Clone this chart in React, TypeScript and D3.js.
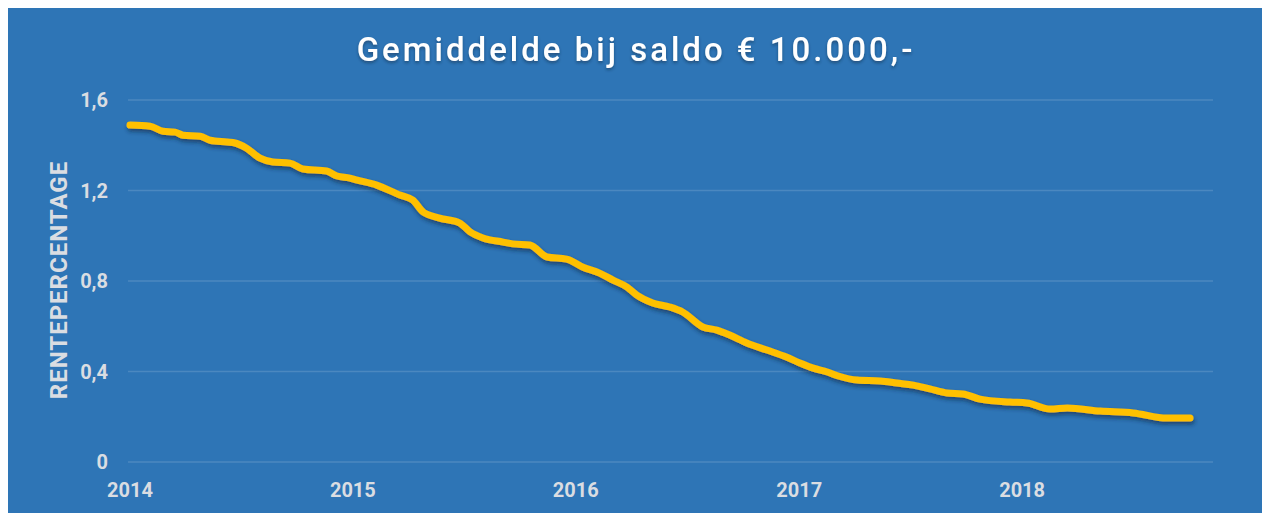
import React from 'react';
import * as d3 from 'd3';

// rente bij saldo 10.000 (leesbaar uit grafiek)
const dates = [
    "2014-01-01", "2014-02-03", "2014-02-24", "2014-03-16", "2014-03-29", "2014-04-26",
    "2014-05-12", "2014-06-09", "2014-06-22", "2014-07-11", "2014-08-02", "2014-08-23",
    "2014-09-20", "2014-10-11", "2014-11-19", "2014-12-06", "2014-12-27", "2015-01-08",
    "2015-02-09", "2015-03-19", "2015-04-09", "2015-04-26", "2015-05-23", "2015-06-25",
    "2015-07-12", "2015-08-02", "2015-09-04", "2015-09-20", "2015-10-18", "2015-11-15",
    "2015-12-17", "2016-01-12", "2016-02-09", "2016-03-02", "2016-03-25", "2016-04-10",
    "2016-05-06", "2016-06-03", "2016-06-24", "2016-07-27", "2016-08-19", "2016-09-09",
    "2016-10-07", "2016-11-09", "2016-12-11", "2017-01-02", "2017-01-24", "2017-02-16",
    "2017-03-06", "2017-04-06", "2017-05-14", "2017-06-10", "2017-07-07", "2017-08-03",
    "2017-08-31", "2017-09-26", "2017-10-24", "2017-12-12", "2018-01-09", "2018-02-16",
    "2018-03-16", "2018-05-09", "2018-07-02", "2018-08-26", "2018-10-03"
];
const rates = [
    1.489, 1.484, 1.462, 1.458, 1.444, 1.440,
    1.422, 1.414, 1.410, 1.387, 1.343, 1.326,
    1.321, 1.295, 1.286, 1.264, 1.255, 1.246,
    1.224, 1.180, 1.158, 1.105, 1.078, 1.056,
    1.017, 0.990, 0.972, 0.964, 0.959, 0.906,
    0.897, 0.862, 0.835, 0.804, 0.773, 0.738,
    0.703, 0.685, 0.663, 0.597, 0.583, 0.561,
    0.526, 0.495, 0.464, 0.438, 0.415, 0.398,
    0.380, 0.362, 0.358, 0.349, 0.340, 0.323,
    0.305, 0.301, 0.278, 0.265, 0.261, 0.234,
    0.239, 0.225, 0.217, 0.194, 0.194
];
const yTicks = [0, 0.4, 0.8, 1.2, 1.6];
const yearTicks = ["2014", "2015", "2016", "2017", "2018"];

const title = "Gemiddelde bij saldo € 10.000,-";
const y_label = "RENTEPERCENTAGE";

const width = 1262;
const height = 505;
const bg = "#2e75b6";
const labelColor = "#dadde2";

type point = { date: Date; rate: number };

const App: React.FC = () => {
    const parse = d3.timeParse("%Y-%m-%d");
    const data: point[] = dates.map((d, i) => ({ date: parse(d)!, rate: rates[i] }));

    const xScale = d3.scaleTime()
        .domain([parse("2014-01-01")!, parse("2019-01-01")!])
        .range([122, 1237]);

    const yScale = d3.scaleLinear()
        .domain([0, 1.6])
        .range([454, 92]);

    const line = d3.line<point>()
        .x(d => xScale(d.date))
        .y(d => yScale(d.rate))
        .curve(d3.curveMonotoneX);

    const gridLeft = 120;
    const gridRight = 1205;

    return (
        <svg width={width} height={height} style={{ display: 'block' }}
            fontFamily="Roboto, 'Helvetica Neue', Arial, sans-serif">
            <defs>
                <filter id="shadow" x="-5%" y="-20%" width="110%" height="140%">
                    <feDropShadow dx="1" dy="3" stdDeviation="2" floodColor="#0b2540" floodOpacity="0.6" />
                </filter>
                <filter id="tshadow" x="-5%" y="-30%" width="110%" height="160%">
                    <feDropShadow dx="0" dy="2" stdDeviation="1.5" floodColor="#0b2540" floodOpacity="0.5" />
                </filter>
            </defs>
            <rect x={0} y={0} width={width} height={height} fill={bg} />

            {/* Grid */}
            {yTicks.map(t => (
                <line key={t} x1={gridLeft} x2={gridRight} y1={yScale(t)} y2={yScale(t)}
                    stroke="#ffffff" strokeOpacity={0.14} strokeWidth={1.5} />
            ))}

            {/* Y ticks */}
            {yTicks.map(t => (
                <text key={"y" + t} x={100} y={yScale(t)} dy="0.36em" textAnchor="end"
                    fill={labelColor} fontSize={20} fontWeight={700}>
                    {t === 0 ? "0" : d3.format(".1f")(t).replace(".", ",")}
                </text>
            ))}

            {/* X ticks */}
            {yearTicks.map(y => (
                <text key={y} x={xScale(parse(y + "-01-01")!)} y={489} textAnchor="middle"
                    fill={labelColor} fontSize={20} fontWeight={700}>
                    {y}
                </text>
            ))}

            {/* Y label */}
            <text transform={`translate(50, 272) rotate(-90)`} textAnchor="middle" dy="0.36em"
                fill={labelColor} fontSize={24} fontWeight={700} letterSpacing={1}>
                {y_label}
            </text>

            {/* Title */}
            <text x={628} y={53} textAnchor="middle" fill="#ffffff" fontSize={33} fontWeight={500}
                letterSpacing={3} filter="url(#tshadow)">
                {title}
            </text>

            {/* Line */}
            <path d={line(data)!} fill="none" stroke="#ffc000" strokeWidth={7}
                strokeLinecap="round" strokeLinejoin="round" filter="url(#shadow)" />
        </svg>
    );
};

export default App;
